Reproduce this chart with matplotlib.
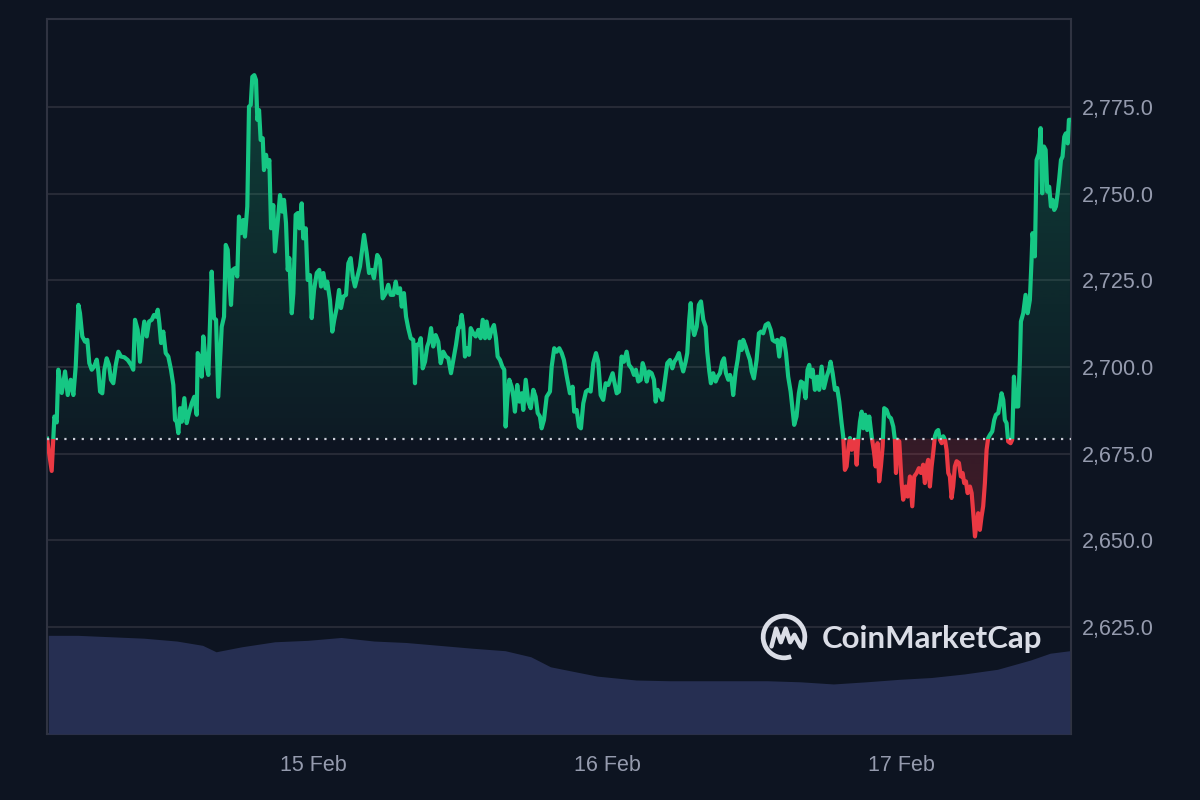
import numpy as np
import pandas as pd
import matplotlib
matplotlib.use("Agg")
import matplotlib.pyplot as plt
import matplotlib.dates as mdates
from matplotlib.patches import Arc, Rectangle
from matplotlib.path import Path
from matplotlib.ticker import FuncFormatter

# ETH price, 14 Feb 02:15 -> 17 Feb ~14:00 (hours since start)
start = pd.Timestamp("2025-02-14 02:15")
hours = [
    0.00, 0.38, 0.60, 0.79, 0.92, 1.20, 1.47, 1.69, 1.93, 2.15,
    2.34, 2.56, 2.69, 2.88, 3.10, 3.29, 3.45, 3.65, 3.84, 4.06,
    4.19, 4.33, 4.51, 4.68, 4.87, 5.06, 5.22, 5.41, 5.61, 5.82,
    6.04, 6.31, 6.59, 6.86, 7.04, 7.18, 7.40, 7.59, 7.78, 7.94,
    8.14, 8.33, 8.55, 8.73, 8.90, 9.04, 9.17, 9.31, 9.49, 9.69,
    9.90, 10.12, 10.31, 10.45, 10.59, 10.72, 10.86, 11.00, 11.21, 11.40,
    11.59, 11.81, 12.02, 12.22, 12.30, 12.49, 12.63, 12.76, 12.96, 13.17,
    13.31, 13.44, 13.63, 13.80, 13.98, 14.26, 14.45, 14.59, 14.75, 14.88,
    15.02, 15.16, 15.35, 15.53, 15.67, 15.84, 16.02, 16.16, 16.35, 16.49,
    16.63, 16.76, 16.92, 17.06, 17.17, 17.31, 17.44, 17.61, 17.71, 17.88,
    18.02, 18.15, 18.29, 18.47, 18.61, 18.80, 19.02, 19.21, 19.35, 19.51,
    19.65, 19.78, 19.98, 20.11, 20.30, 20.47, 20.60, 20.79, 20.92, 21.12,
    21.28, 21.47, 21.61, 21.80, 22.02, 22.23, 22.37, 22.56, 22.75, 22.88,
    23.10, 23.29, 23.45, 23.65, 23.84, 24.00, 24.19, 24.41, 24.60, 24.79,
    24.96, 25.14, 25.55, 25.88, 26.10, 26.29, 26.51, 26.69, 26.96, 27.18,
    27.40, 27.65, 27.86, 28.06, 28.27, 28.47, 28.63, 28.82, 28.96, 29.14,
    29.31, 29.49, 29.69, 29.90, 30.04, 30.18, 30.37, 30.51, 30.67, 30.86,
    31.04, 31.18, 31.35, 31.53, 31.73, 31.94, 32.14, 32.35, 32.57, 32.76,
    32.98, 33.17, 33.39, 33.58, 33.71, 33.85, 33.98, 34.12, 34.31, 34.45,
    34.59, 34.80, 35.00, 35.21, 35.40, 35.57, 35.76, 35.89, 36.11, 36.30,
    36.49, 36.65, 36.79, 36.98, 37.17, 37.33, 37.44, 37.58, 37.74, 37.93,
    38.07, 38.20, 38.39, 38.56, 38.75, 38.88, 39.08, 39.29, 39.49, 39.70,
    39.89, 40.06, 40.24, 40.38, 40.57, 40.79, 41.06, 41.20, 41.41, 41.61,
    41.82, 42.02, 42.20, 42.42, 42.69, 42.91, 43.04, 43.24, 43.43, 43.59,
    43.78, 44.00, 44.19, 44.38, 44.60, 44.82, 45.00, 45.20, 45.41, 45.61,
    45.82, 46.02, 46.18, 46.31, 46.51, 46.69, 46.91, 47.10, 47.32, 47.51,
    47.73, 47.92, 48.08, 48.27, 48.47, 48.63, 48.76, 48.96, 49.14, 49.36,
    49.55, 49.69, 49.85, 50.04, 50.23, 50.45, 50.64, 50.86, 51.05, 51.21,
    51.40, 51.59, 51.76, 51.94, 52.14, 52.27, 52.43, 52.55, 52.68, 52.84,
    53.04, 53.22, 53.39, 53.58, 53.77, 53.90, 54.07, 54.20, 54.39, 54.59,
    54.75, 54.94, 55.13, 55.27, 55.43, 55.62, 55.76, 55.89, 56.02, 56.22,
    56.38, 56.57, 56.71, 56.84, 57.04, 57.20, 57.39, 57.53, 57.71, 57.93,
    58.12, 58.29, 58.47, 58.67, 58.88, 59.08, 59.24, 59.43, 59.62, 59.78,
    59.98, 60.16, 60.33, 60.51, 60.71, 60.87, 61.00, 61.19, 61.38, 61.55,
    61.74, 61.93, 62.09, 62.23, 62.37, 62.51, 62.69, 62.88, 63.04, 63.24,
    63.43, 63.65, 63.84, 63.97, 64.14, 64.33, 64.51, 64.68, 64.87, 65.00,
    65.14, 65.28, 65.41, 65.55, 65.69, 65.82, 65.96, 66.10, 66.23, 66.37,
    66.51, 66.64, 66.80, 66.96, 67.13, 67.32, 67.51, 67.65, 67.81, 67.94,
    68.08, 68.22, 68.35, 68.54, 68.73, 68.90, 69.09, 69.22, 69.31, 69.44,
    69.58, 69.77, 69.90, 70.10, 70.26, 70.45, 70.64, 70.80, 71.00, 71.18,
    71.35, 71.53, 71.67, 71.81, 71.94, 72.08, 72.22, 72.35, 72.49, 72.63,
    72.76, 72.90, 73.04, 73.17, 73.31, 73.44, 73.58, 73.71, 73.85, 73.98,
    74.12, 74.26, 74.45, 74.61, 74.75, 74.88, 75.02, 75.16, 75.35, 75.49,
    75.62, 75.76, 75.89, 76.02, 76.16, 76.30, 76.43, 76.57, 76.71, 76.84,
    76.98, 77.17, 77.33, 77.47, 77.66, 77.80, 77.93, 78.07, 78.20, 78.34,
    78.47, 78.67, 78.80, 78.94, 79.10, 79.29, 79.43, 79.51, 79.70, 79.89,
    80.06, 80.24, 80.38, 80.46, 80.65, 80.79, 80.98, 81.12, 81.25, 81.39,
    81.53, 81.66, 81.82, 81.96, 82.10, 82.23, 82.37, 82.51, 82.64, 82.78,
    82.91, 83.05, 83.18, 83.33, 83.43, 83.51,
]
price = [
    2679.3, 2670.0, 2685.7, 2684.0, 2699.2, 2692.5, 2698.7, 2691.9, 2696.3, 2691.9,
    2700.1, 2717.9, 2715.5, 2708.8, 2707.3, 2707.8, 2701.1, 2699.2, 2700.1, 2702.1,
    2698.7, 2692.9, 2692.4, 2699.2, 2702.5, 2700.6, 2696.3, 2695.3, 2700.6, 2704.4,
    2703.0, 2702.8, 2702.0, 2700.6, 2699.2, 2713.6, 2710.7, 2701.5, 2708.8, 2713.1,
    2708.8, 2713.1, 2713.6, 2715.0, 2714.5, 2716.5, 2712.6, 2706.9, 2710.2, 2704.0,
    2703.0, 2699.2, 2694.8, 2684.7, 2684.2, 2680.9, 2688.1, 2684.2, 2691.0, 2683.8,
    2686.7, 2689.5, 2691.4, 2686.2, 2704.0, 2702.5, 2697.2, 2708.8, 2701.5, 2697.7,
    2713.6, 2727.5, 2714.1, 2713.6, 2691.4, 2711.6, 2714.5, 2735.2, 2733.8, 2725.1,
    2717.9, 2728.0, 2728.5, 2726.1, 2743.4, 2738.6, 2742.4, 2737.6, 2746.3, 2775.1,
    2775.6, 2783.7, 2784.2, 2782.8, 2771.3, 2774.1, 2765.5, 2766.0, 2756.8, 2761.2,
    2757.8, 2759.7, 2740.0, 2746.7, 2733.3, 2740.5, 2749.6, 2744.8, 2748.2, 2741.5,
    2728.0, 2731.4, 2715.5, 2721.3, 2743.9, 2744.4, 2740.0, 2747.2, 2737.1, 2740.0,
    2725.1, 2726.5, 2714.1, 2722.2, 2727.1, 2728.0, 2723.2, 2727.1, 2722.7, 2724.6,
    2719.3, 2710.2, 2713.6, 2717.0, 2722.2, 2717.0, 2720.3, 2720.8, 2729.9, 2731.4,
    2726.1, 2723.2, 2729.0, 2738.1, 2732.8, 2727.1, 2728.0, 2725.6, 2732.3, 2730.9,
    2719.8, 2721.3, 2723.7, 2720.8, 2720.8, 2724.6, 2721.3, 2722.7, 2717.4, 2721.3,
    2714.5, 2711.2, 2708.3, 2707.8, 2695.3, 2706.4, 2706.4, 2708.3, 2699.6, 2701.5,
    2705.9, 2707.3, 2711.2, 2705.9, 2709.2, 2707.3, 2701.1, 2704.4, 2703.0, 2702.5,
    2698.2, 2702.0, 2706.4, 2711.2, 2711.6, 2715.0, 2711.6, 2703.0, 2705.4, 2703.5,
    2711.2, 2709.7, 2708.8, 2710.7, 2708.3, 2713.6, 2708.3, 2713.1, 2708.3, 2710.7,
    2712.1, 2708.3, 2703.0, 2702.0, 2700.1, 2699.2, 2682.8, 2691.0, 2696.3, 2694.3,
    2691.4, 2687.1, 2694.8, 2690.0, 2692.4, 2687.6, 2696.3, 2690.0, 2688.1, 2693.4,
    2691.4, 2686.7, 2685.7, 2682.3, 2684.7, 2691.4, 2692.9, 2700.1, 2705.4, 2704.4,
    2705.4, 2704.0, 2702.0, 2697.5, 2692.4, 2694.3, 2687.1, 2687.6, 2682.8, 2682.3,
    2689.5, 2692.9, 2693.4, 2692.9, 2701.1, 2704.0, 2701.5, 2691.9, 2690.5, 2695.3,
    2694.8, 2696.7, 2698.2, 2695.8, 2692.4, 2692.9, 2703.0, 2701.5, 2704.4, 2700.6,
    2699.6, 2697.7, 2699.2, 2695.8, 2696.3, 2701.1, 2699.6, 2695.8, 2698.7, 2698.2,
    2696.3, 2690.0, 2693.4, 2691.9, 2690.5, 2696.3, 2701.1, 2702.0, 2699.6, 2701.5,
    2702.5, 2704.0, 2701.1, 2698.7, 2701.5, 2704.0, 2713.6, 2718.4, 2712.1, 2709.2,
    2711.6, 2717.9, 2718.9, 2713.6, 2711.6, 2704.4, 2698.7, 2695.3, 2698.2, 2695.8,
    2697.2, 2698.2, 2701.5, 2702.5, 2698.2, 2696.3, 2697.7, 2696.3, 2691.9, 2698.7,
    2702.0, 2707.3, 2704.9, 2707.8, 2705.9, 2704.0, 2702.0, 2698.7, 2696.7, 2702.0,
    2709.7, 2710.2, 2709.7, 2712.1, 2712.6, 2710.7, 2707.8, 2707.3, 2707.8, 2703.0,
    2708.3, 2708.0, 2704.0, 2697.2, 2692.9, 2687.6, 2683.3, 2685.7, 2692.4, 2695.8,
    2695.3, 2691.0, 2699.2, 2700.6, 2697.2, 2699.2, 2693.4, 2697.2, 2693.4, 2700.1,
    2693.9, 2697.2, 2699.2, 2701.5, 2698.2, 2693.4, 2693.9, 2690.0, 2683.8, 2680.0,
    2670.3, 2671.3, 2676.1, 2679.5, 2676.1, 2678.5, 2679.0, 2671.8, 2679.0, 2684.2,
    2687.1, 2682.3, 2686.2, 2681.8, 2685.7, 2680.0, 2675.6, 2671.3, 2678.0, 2667.0,
    2671.3, 2677.0, 2688.1, 2687.6, 2685.7, 2685.2, 2682.8, 2679.0, 2669.4, 2679.0,
    2678.5, 2666.5, 2661.7, 2665.5, 2662.6, 2668.4, 2659.8, 2668.4, 2669.4, 2670.8,
    2669.4, 2671.8, 2666.5, 2671.3, 2673.2, 2665.5, 2671.3, 2675.2, 2680.0, 2681.4,
    2681.8, 2679.0, 2678.0, 2680.0, 2679.0, 2676.1, 2669.4, 2668.4, 2662.2, 2665.5,
    2671.3, 2672.8, 2672.3, 2668.4, 2669.4, 2666.5, 2667.0, 2663.6, 2665.5, 2663.6,
    2657.8, 2651.1, 2654.9, 2657.8, 2653.0, 2656.9, 2659.8, 2666.5, 2676.1, 2679.5,
    2680.4, 2681.4, 2684.7, 2686.2, 2686.7, 2689.5, 2692.4, 2690.5, 2684.7, 2683.8,
    2678.5, 2678.0, 2679.0, 2697.2, 2688.6, 2688.6, 2702.0, 2713.1, 2715.5, 2720.8,
    2715.5, 2719.3, 2730.9, 2738.6, 2731.9, 2759.7, 2761.6, 2768.9, 2750.1, 2763.6,
    2762.6, 2750.6, 2752.0, 2746.3, 2748.2, 2745.3, 2746.3, 2750.1, 2754.4, 2759.7,
    2760.7, 2766.4, 2767.4, 2764.5, 2771.3, 2771.3,
]
baseline = 2679.3

# 24h volume (arbitrary units, only the shape matters)
vol_hours = [0.1, 2.5, 5.2, 7.9, 10.6, 12.7, 13.8, 15.9, 18.6, 21.3, 24.0, 26.7,
             29.3, 32.0, 34.7, 37.4, 39.5, 41.1, 42.7, 44.9, 48.1, 50.8, 53.5,
             56.2, 58.8, 61.5, 64.2, 66.9, 69.6, 72.2, 74.9, 77.6, 80.3, 81.9, 83.5]
volume = [13.8, 13.8, 13.6, 13.4, 13.0, 12.4, 11.5, 12.2, 12.9, 13.1, 13.5, 13.0,
          12.8, 12.4, 12.0, 11.65, 10.8, 9.4, 8.85, 8.1, 7.55, 7.45, 7.45,
          7.45, 7.45, 7.3, 7.0, 7.3, 7.65, 7.9, 8.4, 9.05, 10.35, 11.3, 11.65]

yticks = [2625, 2650, 2675, 2700, 2725, 2750, 2775]

BG = "#0d1421"
GREEN = "#16c784"
RED = "#ea3943"
GRID = "#262a36"
TXT = "#959bae"
plt.rcParams["font.family"] = ["Liberation Sans", "DejaVu Sans"]

t = mdates.date2num(start + pd.to_timedelta(hours, unit="h"))
vt = mdates.date2num(start + pd.to_timedelta(vol_hours, unit="h"))
p = np.array(price)
x0 = mdates.date2num(start)
x1 = mdates.date2num(start + pd.Timedelta(hours=83.6))

fig = plt.figure(figsize=(12, 8), dpi=100, facecolor=BG)
ax = fig.add_axes([0.0392, 0.0825, 0.8533, 0.8938])
ax.set_facecolor(BG)

# volume on its own scale
ax2 = ax.twinx()
ax2.fill_between(vt, volume, 0, color="#262f52", lw=0, zorder=1)
ax2.set_ylim(0, 100)
ax2.set_yticks([])
for s in ax2.spines.values():
    s.set_visible(False)

ax.set_xlim(x0, x1)
ax.set_ylim(2594.1, 2800.4)


def grad_fill(where, color, lo, hi, a_lo, a_hi):
    poly = ax.fill_between(t, p, baseline, where=where, interpolate=True,
                           color="none", lw=0)
    img = np.zeros((200, 1, 4))
    img[:, 0, :3] = matplotlib.colors.to_rgb(color)
    img[:, 0, 3] = np.linspace(a_lo, a_hi, 200)
    im = ax.imshow(img, extent=[x0, x1, lo, hi], origin="lower",
                   aspect="auto", zorder=2)
    paths = poly.get_paths()
    verts = np.concatenate([pp.vertices for pp in paths])
    codes = np.concatenate([pp.codes if pp.codes is not None else
                            np.r_[Path.MOVETO, [Path.LINETO] * (len(pp.vertices) - 1)]
                            for pp in paths])
    im.set_clip_path(Path(verts, codes), ax.transData)


grad_fill(p >= baseline, GREEN, baseline, p.max(), 0.04, 0.24)
grad_fill(p <= baseline, RED, p.min(), baseline, 0.24, 0.18)

# line: green above baseline, red below
up, = ax.plot(t, p, color=GREEN, lw=3, solid_joinstyle="round", zorder=4)
dn, = ax.plot(t, p, color=RED, lw=3, solid_joinstyle="round", zorder=4)
up.set_clip_path(Rectangle((x0, baseline), x1 - x0, 500, transform=ax.transData))
dn.set_clip_path(Rectangle((x0, baseline - 500), x1 - x0, 500, transform=ax.transData))

ax.axhline(baseline, color="#c8ccd6", lw=1.6, ls=(0, (1, 2.9)), zorder=5)

ax.set_yticks(yticks)
ax.yaxis.tick_right()
ax.yaxis.set_major_formatter(FuncFormatter(lambda v, _: f"{v:,.1f}"))
ax.grid(axis="y", color=GRID, lw=1.5)
ax.set_axisbelow(True)
ax.xaxis.set_major_locator(mdates.DayLocator())
ax.xaxis.set_major_formatter(mdates.DateFormatter("%-d %b"))
ax.tick_params(axis="both", length=0, colors=TXT, labelsize=15.5)
ax.tick_params(axis="y", pad=8)
ax.tick_params(axis="x", pad=15)
for s in ax.spines.values():
    s.set_color("#2f3341")
    s.set_linewidth(1.5)

# watermark
lg = fig.add_axes([(784 - 25) / 1200, (800 - 637 - 25) / 800, 50 / 1200, 50 / 800])
lg.set_xlim(-1.2, 1.2)
lg.set_ylim(-1.2, 1.2)
lg.axis("off")
WM = "#dadde6"
lg.add_patch(Arc((0, 0), 2.0, 2.0, theta1=-35, theta2=290, color=WM, lw=3.4))
lg.plot([-0.6, -0.38, -0.15, 0.08, 0.3, 0.5, 0.8],
        [-0.45, 0.4, -0.25, 0.4, -0.25, 0.1, -0.45], color=WM, lw=3.2,
        solid_joinstyle="round", solid_capstyle="round")
fig.text(822 / 1200, (800 - 639) / 800, "CoinMarketCap", color=WM,
         fontsize=22.5, fontweight="bold", family="Lato", va="center", ha="left")

fig.savefig("out.png", dpi=100, facecolor=BG)
